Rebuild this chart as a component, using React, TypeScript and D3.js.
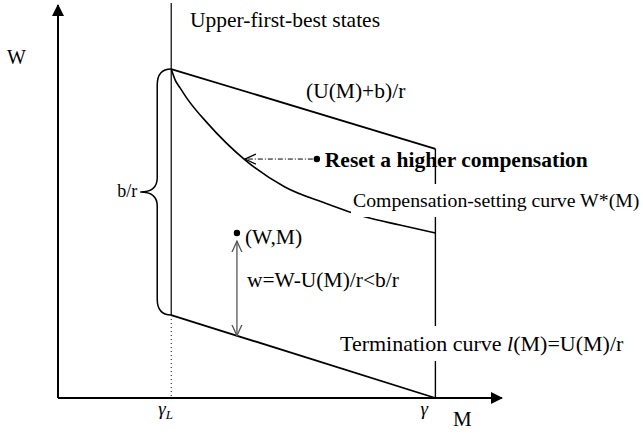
import React, { useRef, useEffect } from "react";
import { select, scaleLinear, line, curveMonotoneX } from "d3";

const WIDTH = 643;
const HEIGHT = 441;
const FONT = "Liberation Serif, DejaVu Serif, serif";

// positions on the M axis
const gammaLow = 25.5;
const gammaHigh = 85;
const wTop = 100.5;

// upper line (U(M)+b)/r
const upperM = [25.5, 85];
const upperW = [83.7, 63.4];

// termination curve l(M) = U(M)/r
const termM = [25.5, 85];
const termW = [21.1, 0];

// compensation-setting curve W*(M)
const curveM = [25.5, 26.4, 27.5, 29.0, 33.6, 42.1, 51.1, 60.1, 69.1, 77.0, 85];
const curveW = [83.7, 80.9, 78.9, 76.3, 70.0, 60.6, 53.7, 49.6, 46.1, 44.0, 42.0];

// the two marked states
const resetPoint = [58.3, 60.8];
const resetTarget = [42.1, 60.6];
const wmPoint = [40.3, 42.0];
const wmArrowTop = 39.9;

function App() {
    const svgRef = useRef(null);

    useEffect(() => {
        const svg = select(svgRef.current);
        svg.selectAll("*").remove();

        const x = scaleLinear().domain([0, 100]).range([58, 502]);
        const y = scaleLinear().domain([0, 100]).range([398, 5]);

        const defs = svg.append("defs");
        defs.append("marker")
            .attr("id", "axisArrow")
            .attr("viewBox", "0 0 12 12")
            .attr("refX", 11).attr("refY", 6)
            .attr("markerWidth", 12).attr("markerHeight", 12)
            .attr("markerUnits", "userSpaceOnUse")
            .attr("orient", "auto")
            .append("path")
            .attr("d", "M0,0 L12,6 L0,12 Z")
            .attr("fill", "#000");
        defs.append("marker")
            .attr("id", "openArrow")
            .attr("viewBox", "0 0 12 12")
            .attr("refX", 11).attr("refY", 6)
            .attr("markerWidth", 12).attr("markerHeight", 12)
            .attr("markerUnits", "userSpaceOnUse")
            .attr("orient", "auto-start-reverse")
            .append("path")
            .attr("d", "M0,1 L11,6 L0,11")
            .attr("fill", "none")
            .attr("stroke", "context-stroke")
            .attr("stroke-width", 1.3);

        // axes
        svg.append("line")
            .attr("x1", x(0)).attr("y1", y(0))
            .attr("x2", x(0)).attr("y2", y(100))
            .attr("stroke", "#000").attr("stroke-width", 2)
            .attr("marker-end", "url(#axisArrow)");
        svg.append("line")
            .attr("x1", x(0)).attr("y1", y(0))
            .attr("x2", x(100)).attr("y2", y(0))
            .attr("stroke", "#000").attr("stroke-width", 2)
            .attr("marker-end", "url(#axisArrow)");

        // gamma_L vertical: solid above termination point, dotted below
        svg.append("line")
            .attr("x1", x(gammaLow)).attr("x2", x(gammaLow))
            .attr("y1", y(wTop)).attr("y2", y(termW[0]))
            .attr("stroke", "#000").attr("stroke-width", 1.2);
        svg.append("line")
            .attr("x1", x(gammaLow)).attr("x2", x(gammaLow))
            .attr("y1", y(termW[0])).attr("y2", y(0))
            .attr("stroke", "#000").attr("stroke-width", 1)
            .attr("stroke-dasharray", "1,3");

        // gamma vertical
        svg.append("line")
            .attr("x1", x(gammaHigh)).attr("x2", x(gammaHigh))
            .attr("y1", y(upperW[1])).attr("y2", y(0))
            .attr("stroke", "#000").attr("stroke-width", 1.4);

        const lineGen = line().x(d => x(d[0])).y(d => y(d[1]));

        svg.append("path")
            .attr("d", lineGen(upperM.map((m, i) => [m, upperW[i]])))
            .attr("fill", "none").attr("stroke", "#000").attr("stroke-width", 1.8);
        svg.append("path")
            .attr("d", lineGen(termM.map((m, i) => [m, termW[i]])))
            .attr("fill", "none").attr("stroke", "#000").attr("stroke-width", 1.8);
        svg.append("path")
            .attr("d", lineGen.curve(curveMonotoneX)(curveM.map((m, i) => [m, curveW[i]])))
            .attr("fill", "none").attr("stroke", "#000").attr("stroke-width", 1.6);

        // brace b/r
        const bx = x(gammaLow);
        const bTop = y(upperW[0]);
        const bBot = y(termW[0]);
        const bMid = (bTop + bBot) / 2;
        const bv = bx - 14;
        const tip = bx - 31;
        svg.append("path")
            .attr("d",
                `M${bx},${bTop} Q${bv},${bTop} ${bv},${bTop + 16}` +
                ` L${bv},${bMid - 14} Q${bv},${bMid} ${tip},${bMid}` +
                ` Q${bv},${bMid} ${bv},${bMid + 14}` +
                ` L${bv},${bBot - 16} Q${bv},${bBot} ${bx},${bBot}`)
            .attr("fill", "none").attr("stroke", "#000").attr("stroke-width", 1.5);

        // reset arrow (dash-dot)
        svg.append("line")
            .attr("x1", x(resetPoint[0]) - 4).attr("y1", y(resetPoint[1]))
            .attr("x2", x(resetTarget[0])).attr("y2", y(resetPoint[1]))
            .attr("stroke", "#000").attr("stroke-width", 1)
            .attr("stroke-dasharray", "5,2,1,2")
            .attr("marker-end", "url(#openArrow)");
        svg.append("circle")
            .attr("cx", x(resetPoint[0])).attr("cy", y(resetPoint[1]))
            .attr("r", 3.2).attr("fill", "#000");

        // (W,M) point and double arrow down to the termination line
        const termAt = termW[0] + (wmPoint[0] - termM[0]) * (termW[1] - termW[0]) / (termM[1] - termM[0]);
        svg.append("circle")
            .attr("cx", x(wmPoint[0])).attr("cy", y(wmPoint[1]))
            .attr("r", 3.2).attr("fill", "#000");
        svg.append("line")
            .attr("x1", x(wmPoint[0])).attr("y1", y(wmArrowTop))
            .attr("x2", x(wmPoint[0])).attr("y2", y(termAt))
            .attr("stroke", "#555").attr("stroke-width", 1.3)
            .attr("marker-start", "url(#openArrow)")
            .attr("marker-end", "url(#openArrow)");

        // labels
        const knockout = (t) => {
            const bb = t.node().getBBox();
            svg.insert("rect", () => t.node())
                .attr("x", bb.x - 2).attr("y", bb.y - 5)
                .attr("width", bb.width + 4).attr("height", bb.height + 10)
                .attr("fill", "#fff");
        };
        const label = (tx, ty, size, str, opts = {}) => {
            return svg.append("text")
                .attr("x", tx).attr("y", ty)
                .style("font-family", FONT)
                .style("font-size", size + "px")
                .style("font-weight", opts.bold ? "bold" : "normal")
                .attr("fill", "#000")
                .attr("text-anchor", opts.anchor || "start")
                .text(str);
        };

        label(7, 64, 20, "W");
        label(190, 27, 21.5, "Upper-first-best states");
        label(306, 98, 21.5, "(U(M)+b)/r");
        label(x(resetPoint[0]) + 8, 167, 21.5, "Reset a higher compensation", { bold: true });
        knockout(label(353, 207, 19.8, "Compensation-setting curve W*(M)"));
        label(x(wmPoint[0]) + 8, 244, 21.5, "(W,M)");
        label(x(wmPoint[0]) + 10, 287, 21.5, "w=W-U(M)/r<b/r");
        label(tip - 3, bMid + 5, 18, "b/r", { anchor: "end" });

        const term = label(340, 351, 22, "");
        term.append("tspan").text("Termination curve ");
        term.append("tspan").style("font-style", "italic").text("l");
        term.append("tspan").text("(M)=U(M)/r");
        knockout(term);

        const gl = label(x(gammaLow) - 13, 415, 19, "");
        gl.append("tspan").style("font-style", "italic").text("γ");
        gl.append("tspan").style("font-style", "italic").style("font-size", "13px").attr("dy", 4).text("L");
        label(x(gammaHigh) - 15, 415, 19, "γ").style("font-style", "italic");
        label(453, 426, 21, "M");
    }, []);

    return (
        <div style={{ position: "absolute", left: 0, top: 0 }}>
            <svg ref={svgRef} width={WIDTH} height={HEIGHT} style={{ display: "block", background: "#fff" }}></svg>
        </div>
    );
}

export default App;
